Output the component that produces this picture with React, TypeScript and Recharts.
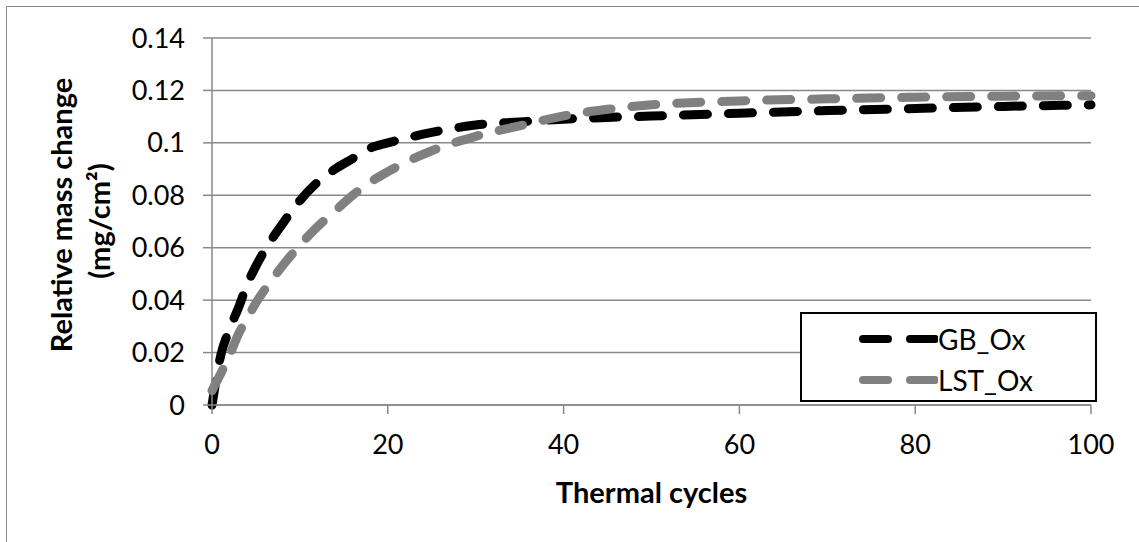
import { CartesianGrid, Line, LineChart, XAxis, YAxis } from "recharts";

const cycles = [0, 1, 2, 3, 4, 5, 6, 8, 10, 12, 14, 16, 18, 20, 25, 30, 35, 40, 45, 50, 60, 70, 80, 90, 100];
const gbOx = [
  0, 0.019, 0.029, 0.037, 0.046, 0.053, 0.059, 0.069, 0.078, 0.085, 0.09, 0.094, 0.098, 0.1,
  0.104, 0.1068, 0.108, 0.109, 0.1097, 0.1102, 0.1113, 0.1123, 0.1131, 0.1139, 0.1145
];
const lstOx = [
  0.0055, 0.012, 0.019, 0.027, 0.033, 0.039, 0.044, 0.053, 0.061, 0.068, 0.074, 0.08, 0.085,
  0.089, 0.097, 0.1025, 0.1065, 0.1103, 0.1128, 0.1145, 0.116, 0.1168, 0.1174, 0.1178, 0.118
];
const xTicks = [0, 20, 40, 60, 80, 100];
const yTicks = [0, 0.02, 0.04, 0.06, 0.08, 0.1, 0.12, 0.14];

const series = [
  { key: "GB_Ox", color: "#000000", values: gbOx },
  { key: "LST_Ox", color: "#808080", values: lstOx }
];

const data = cycles.map((c, i) => ({ cycle: c, GB_Ox: gbOx[i], LST_Ox: lstOx[i] }));

const font = "Lato, 'Open Sans', sans-serif";
const gridColor = "#898989";
const dash = "24 21";

function LegendBox() {
  return (
    <div
      style={{
        position: "absolute",
        left: 800,
        top: 312,
        width: 297,
        height: 90,
        boxSizing: "border-box",
        border: "2px solid #000",
        background: "#fff",
        fontFamily: font,
        fontSize: 28
      }}
    >
      {series.map((s, i) => (
        <div
          key={s.key}
          style={{ position: "absolute", left: 56, top: 7 + i * 41, height: 36, display: "flex", alignItems: "center" }}
        >
          <svg width={80} height={20}>
            <line
              x1={5}
              y1={10}
              x2={77}
              y2={10}
              stroke={s.color}
              strokeWidth={8}
              strokeLinecap="round"
              strokeDasharray="25 22"
            />
          </svg>
          <span style={{ color: "#000", lineHeight: "36px" }}>{s.key}</span>
        </div>
      ))}
    </div>
  );
}

export default function App() {
  return (
    <div
      style={{
        position: "absolute",
        left: 0,
        top: 0,
        width: 1139,
        height: 542,
        background: "#fff",
        overflow: "hidden"
      }}
    >
      <div
        style={{
          position: "absolute",
          left: 6,
          top: 6,
          width: 1200,
          height: 600,
          borderLeft: `1.5px solid ${gridColor}`,
          borderTop: `1.5px solid ${gridColor}`
        }}
      />
      <LineChart
        width={1139}
        height={542}
        data={data}
        margin={{ top: 38, right: 48, bottom: 97, left: 112 }}
        style={{ position: "absolute", left: 0, top: 0, fontFamily: font }}
      >
        <CartesianGrid horizontal vertical={false} stroke={gridColor} strokeWidth={1.5} />
        <XAxis
          dataKey="cycle"
          type="number"
          domain={[0, 100]}
          ticks={xTicks}
          height={40}
          stroke={gridColor}
          strokeWidth={1.5}
          tickSize={9}
          tickMargin={21}
          tick={{ fill: "#000", fontSize: 27, fontFamily: font }}
          label={{
            content: () => (
              <text x={651.5} y={503} textAnchor="middle" fontFamily={font} fontSize={29} fontWeight="bold" fill="#000">
                Thermal cycles
              </text>
            )
          }}
        />
        <YAxis
          type="number"
          domain={[0, 0.14]}
          ticks={yTicks}
          width={100}
          stroke={gridColor}
          strokeWidth={1.5}
          tickSize={9}
          tickMargin={18}
          tick={{ fill: "#000", fontSize: 27, fontFamily: font }}
          label={{
            content: () => (
              <g fontFamily={font} fontSize={29} fontWeight="bold" fill="#000">
                <text x={0} y={0} textAnchor="middle" transform="translate(72,215) rotate(-90)">
                  Relative mass change
                </text>
                <text x={0} y={0} textAnchor="middle" transform="translate(110,221) rotate(-90)">
                  (mg/cm²)
                </text>
              </g>
            )
          }}
        />
        {series.map((s) => (
          <Line
            key={s.key}
            type="monotone"
            dataKey={s.key}
            stroke={s.color}
            strokeWidth={9}
            strokeDasharray={dash}
            strokeLinecap="round"
            dot={false}
            activeDot={false}
            isAnimationActive={false}
          />
        ))}
      </LineChart>
      <LegendBox />
    </div>
  );
}
